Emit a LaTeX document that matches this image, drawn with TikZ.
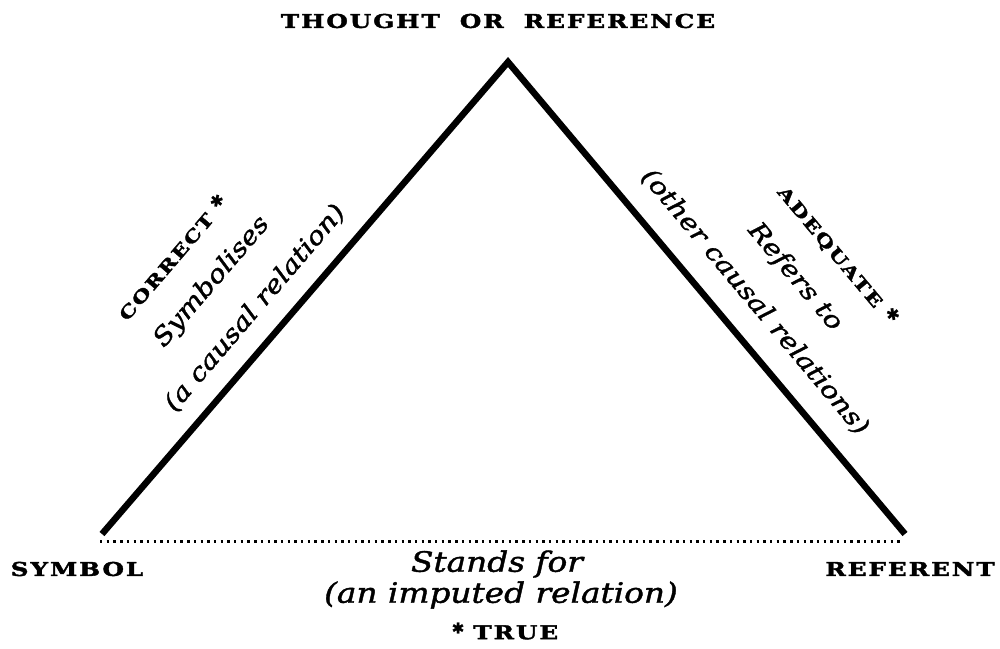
\documentclass[tikz,border=0pt]{standalone}
\usepackage{fontspec}
\setmainfont{DejaVu Serif}
\newfontfamily\capsfont{DejaVu Serif}[FakeStretch=1.3,LetterSpace=10,FakeBold=2]
\newfontfamily\itfont{DejaVu Serif}[FakeStretch=1.17,FakeBold=1.5]
\newfontfamily\starfont{DejaVu Sans}[FakeBold=1]
\newcommand{\mystar}[1]{\raisebox{0.3em}{\starfont\bfseries\fontsize{#1}{#1}\selectfont ✱}}
\begin{document}
\begin{tikzpicture}[x=1pt,y=-1pt,
  side/.style={line width=6.5pt,line join=miter,line cap=butt},
  base/.style={line width=3pt,dash pattern=on 2.4pt off 4.3pt},
  caplabel/.style={inner sep=0pt,font=\capsfont\bfseries\fontsize{19}{21}\selectfont},
  smallcap/.style={inner sep=0pt,font=\capsfont\bfseries\fontsize{17}{19}\selectfont},
  bigit/.style={inner sep=0pt,font=\itfont\itshape\fontsize{28}{30}\selectfont},
  sideit/.style={inner sep=0pt,font=\itfont\itshape\fontsize{24.5}{26}\selectfont}]
\useasboundingbox[fill=white] (0,0) rectangle (1000,648);
% corners
\coordinate (apex) at (508,62);
\coordinate (lft) at (102,534);
\coordinate (rgt) at (905,534);
\coordinate (bl) at (100,541);
\coordinate (br) at (902,541);
\draw[side] (lft) -- (apex) -- (rgt);
\draw[base] (bl) -- (br);
% corner labels
\node[caplabel] (thought) at (498,21) {THOUGHT\hspace{20pt}OR\hspace{20pt}REFERENCE};
\node[caplabel] (symbol) at (77,569) {SYMBOL};
\node[caplabel] (referent) at (910,569) {REFERENT};
% base labels
\node[bigit] (stands) at (497,564) {Stands for};
\node[bigit] (imputed) at (501,595) {(an imputed relation)};
\node[caplabel] (true) at (505,631) {\mystar{15}\hspace{9pt}TRUE};
% left side labels
\node[smallcap,rotate=49.4] (correct) at (172,257) {CORRECT\hspace{9pt}\mystar{16}};
\node[sideit,rotate=49.4] (symbolises) at (212,282) {Symbolises};
\node[sideit,rotate=49.4] (causal) at (255,308) {(a causal relation)};
% right side labels
\node[smallcap,rotate=-50] (adequate) at (838,255) {ADEQUATE\hspace{9pt}\mystar{16}};
\node[sideit,rotate=-50] (refers) at (795,277) {Refers to};
\node[sideit,rotate=-50] (other) at (755,302) {(other causal relations)};
\end{tikzpicture}
\end{document}
